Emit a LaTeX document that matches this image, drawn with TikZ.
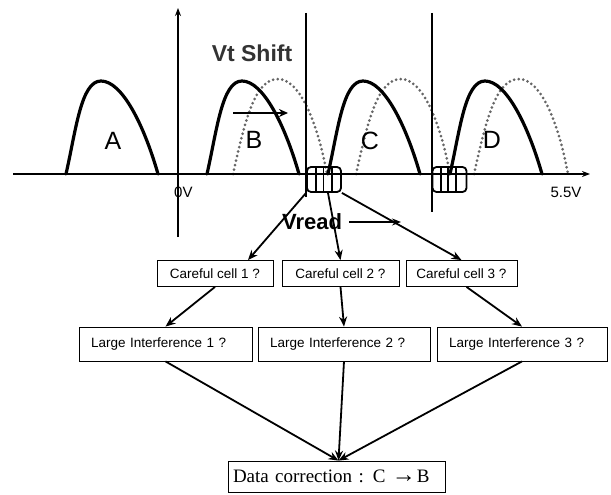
\documentclass[tikz,border=0pt]{standalone}
\usepackage{fontspec}
\setmainfont{Liberation Sans}
\newfontfamily\serifdc{Liberation Serif}
\usetikzlibrary{arrows.meta}
\begin{document}
\begin{tikzpicture}[x=1pt,y=-1pt,
  bump/.style={line width=3.2pt,line cap=round,line join=round},
  shifted/.style={line width=3pt,line cap=round,dash pattern=on 0pt off 4.6pt,black!60},
  vline/.style={line width=1.8pt},
  axis/.style={line width=1.5pt,-{Stealth[length=8pt,width=6pt]}},
  cellbox/.style={draw,line width=1.8pt,rounded corners=4pt,minimum width=34pt,minimum height=25pt,inner sep=0pt},
  qbox/.style={draw,line width=0.8pt,minimum height=26pt,inner sep=0pt,font=\fontsize{13.5}{15}\selectfont},
  ibox/.style={draw,line width=0.8pt,minimum height=34pt,inner ysep=0pt,inner xsep=12pt,align=left,font=\fontsize{13.5}{15}\selectfont},
  conn/.style={line width=1.8pt,-{Stealth[length=10pt,width=8pt]}},
  lbl/.style={font=\fontsize{25}{28}\selectfont,inner sep=0pt},
  vlbl/.style={font=\fontsize{15}{17}\selectfont,inner sep=0pt},
]
\useasboundingbox (0,0) rectangle (611,495);

% shifted (dotted) distributions
\foreach \x in {233,356,474}
  \draw[shifted] (\x,174) .. controls (\x+12,120) and (\x+22,79) .. (\x+45,79)
                 .. controls (\x+66,79) and (\x+84,120) .. (\x+94,174);
% original distributions
\foreach \x in {66,207,328,450}
  \draw[bump] (\x,174) .. controls (\x+10,130) and (\x+15,81) .. (\x+35,81)
              .. controls (\x+56,81) and (\x+78,125) .. (\x+92,174);

% labels
\node[lbl] (la) at (113,141) {A};
\node[lbl] (lb) at (254,140) {B};
\node[lbl] (lc) at (370,141) {C};
\node[lbl] (ld) at (492,140) {D};
\node[font=\bfseries\fontsize{23}{26}\selectfont,text=black!80] (vtshift) at (252,53) {Vt Shift};
\node[vlbl,anchor=west] (zerov) at (174,192) {0V};
\node[vlbl] (fivev) at (566,192) {5.5V};

% Vt shift arrow
\coordinate (vs0) at (233,113);
\coordinate (vs1) at (288,113);
\draw[line width=2.4pt,-{Stealth[length=9pt,width=8pt]}] (vs0) -- (vs1);

% axes
\draw[axis] (13,174) -- (590,174);
\draw[axis] (178,237) -- (178,8);

% read levels
\draw[vline] (306,13) -- (306,197);
\draw[vline] (432,13) -- (432,212);

% cell groups
\node[cellbox] (cellsA) at (324,179.5) {};
\foreach \x in {316,323.5,332} \draw[line width=1.5pt] (\x,167) -- (\x,192);
\node[cellbox] (cellsB) at (449.5,179.5) {};
\foreach \x in {441,448,456} \draw[line width=1.5pt] (\x,167) -- (\x,192);

% Vread
\node[font=\bfseries\fontsize{22}{24}\selectfont,inner sep=1pt] (vread) at (312,222) {Vread};
\coordinate (vtip) at (401,222);
\draw[line width=1.8pt,-{Stealth[length=9pt,width=7pt]}] ([xshift=6pt]vread.east) -- (vtip);

% boxes
\node[qbox,minimum width=116pt] (cc1) at (215,273.5) {Careful cell 1 ?};
\node[qbox,minimum width=117pt] (cc2) at (340.5,273.5) {Careful cell 2 ?};
\node[qbox,minimum width=111pt] (cc3) at (461.5,273.5) {Careful cell 3 ?};
\node[ibox,text width=149pt] (li1) at (165.5,344) {Large Interference 1 ?};
\node[ibox,text width=148pt] (li2) at (344,344) {Large Interference 2 ?};
\node[ibox,text width=146pt] (li3) at (522,344) {Large Interference 3 ?};
\node[draw,line width=0.8pt,minimum height=31pt,inner ysep=0pt,inner xsep=5pt,text width=207pt,align=left,font=\serifdc\fontsize{19}{21}\selectfont] (data) at (336.5,476.5) {Data correction :\hspace{9pt}C {\fontsize{24}{21}\selectfont →}\kern1pt B};

% connectors
\draw[conn] (cellsA.south west) -- ([xshift=33pt]cc1.north);
\draw[conn] ([xshift=4pt]cellsA.south) -- (cc2.north);
\draw[conn] (cellsA.south east) -- (cc3.north);
\draw[conn] (cc1.south) -- (li1.north);
\draw[conn] (cc2.south) -- (li2.north);
\draw[conn] ([xshift=5pt]cc3.south) -- (li3.north);
\coordinate (conv) at ([xshift=2pt]data.north);
\draw[conn] (li1.south) -- (conv);
\draw[conn] (li2.south) -- (conv);
\draw[conn] (li3.south) -- (conv);
\end{tikzpicture}
\end{document}
